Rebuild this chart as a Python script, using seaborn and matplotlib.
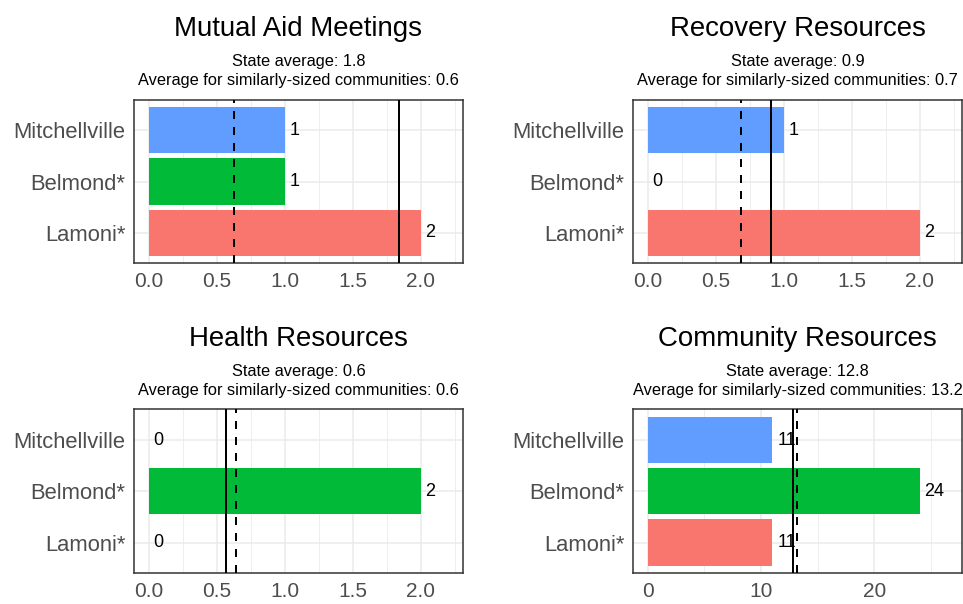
import matplotlib
matplotlib.use("Agg")
import matplotlib.pyplot as plt
import seaborn as sns
import pandas as pd
from matplotlib.ticker import MultipleLocator, FormatStrFormatter

# ---- data ----
communities = ["Mitchellville", "Belmond*", "Lamoni*"]
palette = ["#619CFF", "#00BA38", "#F8766D"]
metrics = ["Mutual Aid Meetings", "Recovery Resources", "Health Resources", "Community Resources"]
mutual_aid = [1, 1, 2]
recovery = [1, 0, 2]
health = [0, 2, 0]
community = [11, 24, 11]
state_avg = [1.84, 0.91, 0.57, 12.8]
similar_avg = [0.63, 0.69, 0.64, 13.2]
values = [mutual_aid, recovery, health, community]

# ---- style ----
sns.set_theme(style="white")
plt.rcParams["font.family"] = ["Liberation Sans", "DejaVu Sans"]

W, H = 963, 604
fig = plt.figure(figsize=(W / 100, H / 100), dpi=100)

# panel boxes in pixels: x0, x1, y0(top), y1(bottom)
boxes = [(134.3, 462.7, 99.7, 263.3), (633.3, 961.7, 99.7, 263.3),
         (134.3, 462.7, 409.3, 573.3), (633.3, 961.7, 409.3, 573.3)]
xlims = [(-0.106, 2.31), (-0.106, 2.31), (-0.106, 2.31), (-1.27, 27.7)]
major = [0.5, 0.5, 0.5, 10]
fmt = ["%.1f", "%.1f", "%.1f", "%d"]
title_base = [36, 36, 346, 346]

for k in range(4):
    x0, x1, y0, y1 = boxes[k]
    ax = fig.add_axes([x0 / W, 1 - y1 / H, (x1 - x0) / W, (y1 - y0) / H])
    df = pd.DataFrame({"community": communities, "value": values[k]})
    sns.barplot(data=df, y="community", x="value", hue="community",
                palette=palette, order=communities, hue_order=communities,
                width=0.9, orient="h", legend=False, ax=ax, linewidth=0,
                saturation=1, zorder=2)
    ax.set_ylim(2.6, -0.6)
    ax.set_xlim(*xlims[k])
    ax.xaxis.set_major_locator(MultipleLocator(major[k]))
    ax.xaxis.set_minor_locator(MultipleLocator(major[k] / 2))
    ax.xaxis.set_major_formatter(FormatStrFormatter(fmt[k]))
    ax.grid(True, which="major", color="#EBEBEB", linewidth=1.1, zorder=0)
    ax.grid(True, which="minor", axis="x", color="#EBEBEB", linewidth=0.6, zorder=0)
    ax.set_axisbelow(True)
    ax.set_xlabel("")
    ax.set_ylabel("")
    for s in ax.spines.values():
        s.set_color("#333333")
        s.set_linewidth(1.1)
    ax.tick_params(axis="both", which="major", length=3.8, width=1.0,
                   color="#333333", labelcolor="#4D4D4D", labelsize=15, pad=2.5)
    ax.tick_params(axis="y", which="major", labelsize=15.8)
    ax.tick_params(axis="x", which="minor", length=0)

    for i, v in enumerate(values[k]):
        ax.annotate(str(v), xy=(v, i), xytext=(3.5, 0), textcoords="offset points",
                    ha="left", va="center", fontsize=13, color="black", zorder=5)

    ax.axvline(state_avg[k], color="black", linewidth=1.44, zorder=4)
    ax.axvline(similar_avg[k], color="black", linewidth=1.44,
               linestyle=(0, (4, 4)), zorder=4)

    cx = (x0 + x1) / 2 / W
    tb = title_base[k]
    fig.text(cx, 1 - tb / H, metrics[k], ha="center", va="baseline",
             fontsize=19.9, color="black")
    fig.text(cx, 1 - (tb + 30) / H, f"State average: {state_avg[k]:.1f}",
             ha="center", va="baseline", fontsize=11.8, color="black")
    fig.text(cx, 1 - (tb + 49) / H,
             f"Average for similarly-sized communities: {similar_avg[k]:.1f}",
             ha="center", va="baseline", fontsize=11.8, color="black")

fig.savefig("out.png", dpi=100, facecolor="white")
